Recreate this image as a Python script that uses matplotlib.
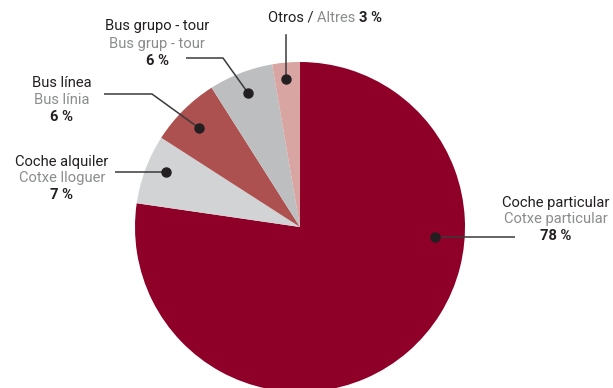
import matplotlib.pyplot as plt

# slice shares as drawn in the picture (clockwise from top)
shares = [77.3, 6.8, 6.9, 6.3, 2.7]
names_es = ["Coche particular", "Coche alquiler", "Bus línea", "Bus grupo - tour", "Otros"]
names_ca = ["Cotxe particular", "Cotxe lloguer", "Bus línia", "Bus grup - tour", "Altres"]
pct_labels = ["78 %", "7 %", "6 %", "6 %", "3 %"]
colors = ["#8f0029", "#d1d3d4", "#ac5150", "#bcbec0", "#d9a5a2"]

W, H = 613, 388
DARK = "#231f20"
GREY = "#8a8c8e"
plt.rcParams["font.family"] = ["Roboto", "DejaVu Sans"]

fig = plt.figure(figsize=(W / 100, H / 100), dpi=100)
ax = fig.add_axes([0, 0, 1, 1])
ax.pie(shares, colors=colors, startangle=90, counterclock=False,
       center=(300, H - 227), radius=165, wedgeprops=dict(linewidth=0))
ax.set_xlim(0, W)
ax.set_ylim(0, H)
ax.set_aspect("equal")
ax.axis("off")

# label layout in pixel coords (y from top): text centre, leader path, dot
layout = [
    dict(tx=556, ty=[203, 219, 236], path=[(515, 237), (435, 237)]),
    dict(tx=62, ty=[162, 178, 195], path=[(115, 172), (166, 172)]),
    dict(tx=62, ty=[83, 100, 117], path=[(104, 94), (152, 94), (199, 128)]),
    dict(tx=157, ty=[26, 44, 61], path=[(186, 58), (223, 58), (248, 93)]),
]
fs = 10.6
for i, lay in enumerate(layout):
    ys = [H - y for y in lay["ty"]]
    ax.text(lay["tx"], ys[0], names_es[i], ha="center", va="center", fontsize=fs, color=DARK)
    ax.text(lay["tx"], ys[1], names_ca[i], ha="center", va="center", fontsize=fs, color=GREY)
    ax.text(lay["tx"], ys[2], pct_labels[i], ha="center", va="center", fontsize=fs,
            color=DARK, fontweight="bold")
    px = [p[0] for p in lay["path"]]
    py = [H - p[1] for p in lay["path"]]
    ax.plot(px, py, color="#3a3a3a", lw=1.1, solid_capstyle="butt")
    ax.plot(px[-1], py[-1], "o", color=DARK, ms=6.5)

# Otros: single line with mixed colours
fig.canvas.draw()
r = fig.canvas.get_renderer()
x0, y0 = 268, H - 18
parts = [("Otros / ", DARK, "normal"), (names_ca[4] + " ", GREY, "normal"),
         (pct_labels[4], DARK, "bold")]
inv = ax.transData.inverted()
for s, c, w in parts:
    t = ax.text(x0, y0, s, ha="left", va="center", fontsize=fs, color=c, fontweight=w)
    bb = t.get_window_extent(renderer=r)
    x0 = inv.transform((bb.x1, bb.y0))[0]
ax.plot([286, 286], [H - 35, H - 79], color="#3a3a3a", lw=1.1)
ax.plot(286, H - 79, "o", color=DARK, ms=6.5)

fig.savefig("out.png", dpi=100)
